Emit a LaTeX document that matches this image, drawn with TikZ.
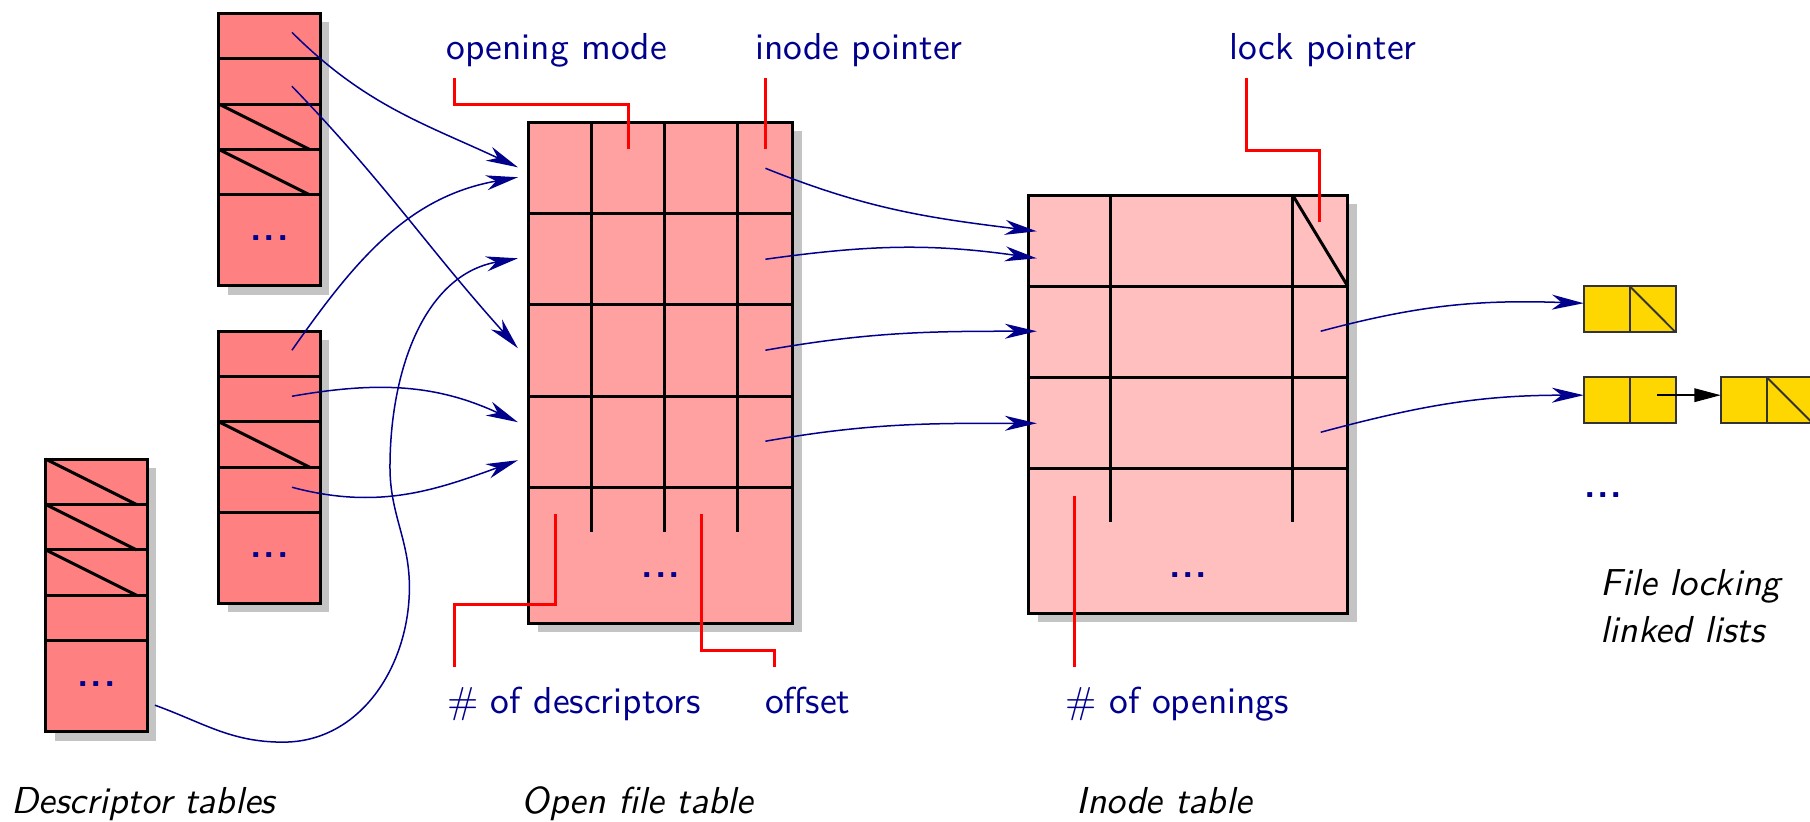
\documentclass[tikz,border=0pt]{standalone}
\usetikzlibrary{arrows.meta}
\definecolor{ptrblue}{RGB}{0,0,140}
\definecolor{shadowgray}{RGB}{196,196,196}
\definecolor{lockgold}{RGB}{255,215,0}
\newcommand{\etc}{.\kern.5pt.\kern.5pt.}
\begin{document}
\begin{tikzpicture}[font=\sffamily,
  ptr/.style={ptrblue,-{Stealth[length=8.5pt,width=4pt,inset=2.6pt]}},
  leader/.style={red,thick},
  note/.style={text=ptrblue,anchor=base,inner sep=3pt,text height=9pt,text depth=1.8pt},
  title/.style={anchor=base,font=\sffamily\itshape},
  dots/.style={text=ptrblue,anchor=base,font=\sffamily\bfseries}]
\useasboundingbox (0,0) rectangle (16.95,7.69);

% descriptor tables
\foreach \x/\y/\name/\diag in {2.05/7.565/d1/{3,4}, 2.05/4.59/d2/{3}, 0.43/3.39/d3/{1,2,3}} {
  \fill[shadowgray] (\x+0.085,\y-0.085) rectangle ++(0.95,-2.55);
  \filldraw[fill=red!50,thick] (\x,\y) rectangle ++(0.95,-2.55);
  \foreach \r in {1,...,4} \draw[thick] (\x,\y-\r*0.425) -- ++(0.95,0);
  \foreach \r in \diag \draw[thick] (\x,\y-\r*0.425+0.425) -- ++(0.85,-0.425);
  \node[dots] (\name-dots) at (\x+0.475,\y-2.125) {\etc};
}

% open file table
\fill[shadowgray] (5.038,6.46) rectangle (7.51,1.77);
\filldraw[fill=red!37,thick] (4.953,6.545) rectangle (7.425,1.855);
\foreach \y in {5.69,4.835,3.98,3.125} \draw[thick] (4.953,\y) -- (7.425,\y);
\foreach \x in {5.543,6.226,6.91} \draw[thick] (\x,6.545) -- (\x,2.706);
\node[dots] (of-dots) at (6.19,2.285) {\etc};

% inode table
\fill[shadowgray] (9.72,5.776) rectangle (12.706,1.863);
\filldraw[fill=red!25,thick] (9.635,5.861) rectangle (12.621,1.948);
\foreach \y in {5.009,4.157,3.305} \draw[thick] (9.635,\y) -- (12.621,\y);
\foreach \x in {10.402,12.106} \draw[thick] (\x,5.861) -- (\x,2.8);
\draw[thick] (12.106,5.861) -- (12.621,5.009);
\node[dots] (in-dots) at (11.128,2.285) {\etc};

% lock lists
\foreach \x/\y/\last in {14.831/5.009/1, 14.831/4.157/0, 16.114/4.157/1} {
  \filldraw[fill=lockgold,draw=black!80,line width=0.5pt] (\x,\y) rectangle ++(0.861,-0.431);
  \draw[black!80,line width=0.5pt] (\x+0.431,\y) -- ++(0,-0.431);
  \ifnum\last=1 \draw[black!80,line width=0.5pt] (\x+0.431,\y) -- ++(0.43,-0.431); \fi
}
\node[dots] (lk-dots) at (15.013,3.034) {\etc};

% pointer ends
\coordinate (d1a) at (2.734,7.387);
\coordinate (d1b) at (2.734,6.882);
\coordinate (d2a) at (2.734,4.41);
\coordinate (d2b) at (2.734,3.979);
\coordinate (d2d) at (2.734,3.127);
\coordinate (d3e) at (1.451,1.086);
\coordinate (of1) at (4.85,6.123);
\coordinate (of1b) at (4.85,6.03);
\coordinate (of2) at (4.85,5.271);
\coordinate (of3) at (4.85,4.429);
\coordinate (of4) at (4.85,3.736);
\coordinate (of4b) at (4.85,3.38);
\coordinate (op1) at (7.168,6.114);
\coordinate (op2) at (7.168,5.262);
\coordinate (op3) at (7.168,4.41);
\coordinate (op4) at (7.168,3.558);
\coordinate (in1) at (9.709,5.524);
\coordinate (in1b) at (9.709,5.271);
\coordinate (in2) at (9.709,4.588);
\coordinate (in3) at (9.709,3.726);
\coordinate (lp2) at (12.368,4.588);
\coordinate (lp3) at (12.368,3.642);
\coordinate (lk1) at (14.831,4.85);
\coordinate (lk2) at (14.831,3.989);
\coordinate (nx) at (15.515,3.989);
\coordinate (lk3) at (16.114,3.989);

\draw[ptr] (d1a) to[out=-45,in=155] (of1);
\draw[ptr] (d1b) to[out=-46,in=132] (of3);
\draw[ptr] (d2a) to[out=55,in=190] (of1b);
\draw[ptr] (d2b) to[out=10,in=155] (of4);
\draw[ptr] (d2d) to[out=-15,in=200] (of4b);
\draw[ptr] (d3e) to[out=-20,in=180] (2.65,0.74) to[out=0,in=-90] (3.834,2.191)
  to[out=90,in=-90] (3.652,3.314) to[out=90,in=190] (of2);
\draw[ptr] (op1) to[out=-22,in=173] (in1);
\draw[ptr] (op2) to[out=8,in=172] (in1b);
\draw[ptr] (op3) to[out=10,in=180] (in2);
\draw[ptr] (op4) to[out=10,in=180] (in3);
\draw[ptr] (lp2) to[out=15,in=178] (lk1);
\draw[ptr] (lp3) to[out=15,in=180] (lk2);
\draw[-{Triangle[length=7pt,width=3.6pt]}] (nx) -- (lk3);

% field labels
\node[note] (opmode) at (5.213,7.135) {opening mode};
\node[note] (inoptr) at (8.043,7.135) {inode pointer};
\node[note] (lockptr) at (12.392,7.135) {lock pointer};
\node[note] (ndesc) at (5.374,1.011) {\# of descriptors};
\node[note] (offs) at (7.563,1.011) {offset};
\node[note] (nopen) at (11.025,1.011) {\# of openings};
\draw[leader] (4.26,0 |- opmode.south) |- (5.886,6.713) -- (5.886,6.292);
\draw[leader] (7.168,0 |- inoptr.south) -- (7.168,6.292);
\draw[leader] (11.676,0 |- lockptr.south) |- (12.359,6.283) -- (12.359,5.608);
\draw[leader] (4.26,0 |- ndesc.north) |- (5.206,2.032) -- (5.206,2.874);
\draw[leader] (7.256,0 |- offs.north) |- (6.573,1.601) -- (6.573,2.874);
\draw[leader] (10.065,0 |- nopen.north) -- (10.065,3.043);

% captions
\node[title] (dtab) at (1.344,0.075) {Descriptor tables};
\node[title] (oftab) at (5.969,0.075) {Open file table};
\node[title] (intab) at (10.903,0.075) {Inode table};
\node[title,anchor=base west,align=left] (locks) at (14.868,1.669) {File locking\\[0.7pt]linked lists};
\end{tikzpicture}
\end{document}
